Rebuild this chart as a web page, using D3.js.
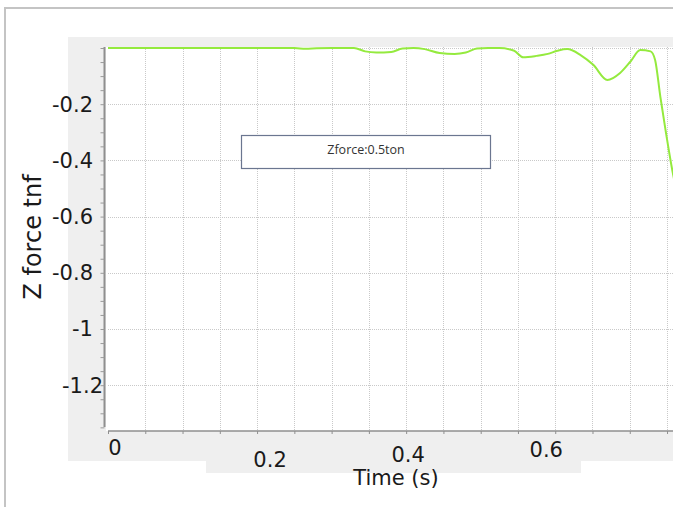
<!DOCTYPE html>
<html>
<head>
<meta charset="utf-8">
<script src="https://cdn.jsdelivr.net/npm/d3@7"></script>
<style>
  body { margin: 0; background: #fff; }
  svg { display: block; }
</style>
</head>
<body>
<div id="chart"></div>
<script>
// time (s) and Z force (tnf)
const timeValues = [0, 0.25, 0.265, 0.28, 0.3, 0.33, 0.345, 0.36, 0.38, 0.395, 0.41, 0.425, 0.445, 0.465, 0.48, 0.495,
  0.51, 0.525, 0.545, 0.557, 0.575, 0.59, 0.603, 0.616, 0.634, 0.651, 0.67, 0.687, 0.701, 0.714, 0.728, 0.734, 0.741, 0.748, 0.757, 0.762]
const zForceValues = [0, 0, -0.003, -0.001, 0, 0, -0.012, -0.016, -0.014, -0.002, 0, -0.004, -0.018, -0.021, -0.016, -0.002,
  0, 0, -0.01, -0.033, -0.028, -0.021, -0.01, -0.004, -0.025, -0.06, -0.114, -0.089, -0.048, -0.007, -0.012, -0.043, -0.173, -0.292, -0.434, -0.5]

const xTickValues = [0, 0.2, 0.4, 0.6]
const xTickLabels = ['0', '0.2', '0.4', '0.6']
const yTickValues = [-0.2, -0.4, -0.6, -0.8, -1, -1.2]
const yTickLabels = ['-0.2', '-0.4', '-0.6', '-0.8', '-1', '-1.2']
const noteText = 'Zforce:0.5ton'
const xTitle = 'Time (s)'
const yTitle = 'Z force tnf'

const W = 673, H = 507
const plot = {left: 106, right: 673, top: 47, bottom: 431}

const x = d3.scaleLinear().domain([0, 0.758]).range([108, 673])
const y = d3.scaleLinear().domain([0, -1.363]).range([48, 431])

const svg = d3.select('#chart').append('svg')
  .attr('width', W)
  .attr('height', H)
  .style('font-family', '"DejaVu Sans", sans-serif')

// outer frame of the screenshot
svg.append('path')
  .attr('d', `M5,${H} L5,8 L${W},8`)
  .attr('fill', 'none')
  .attr('stroke', '#c4c4c4')
  .attr('stroke-width', 2)

// grey panel behind the plot
svg.append('rect').attr('x', 68).attr('y', 37).attr('width', W - 68).attr('height', 424).attr('fill', '#efefef')
svg.append('rect').attr('x', 206).attr('y', 460).attr('width', 375).attr('height', 13).attr('fill', '#efefef')

// white plot area
svg.append('rect')
  .attr('x', plot.left).attr('y', plot.top)
  .attr('width', plot.right - plot.left).attr('height', plot.bottom - plot.top)
  .attr('fill', '#fff')

svg.append('clipPath').attr('id', 'clip')
  .append('rect')
  .attr('x', plot.left).attr('y', plot.top)
  .attr('width', plot.right - plot.left).attr('height', plot.bottom - plot.top)

// grid
const grid = svg.append('g').attr('stroke', '#c9c9c9').attr('stroke-width', 1).attr('stroke-dasharray', '1,1')
grid.selectAll('.vg')
  .data(d3.range(1, 16).map(i => i * 0.05))
  .enter().append('line')
  .attr('x1', d => Math.round(x(d)) + 0.5).attr('x2', d => Math.round(x(d)) + 0.5)
  .attr('y1', plot.top).attr('y2', plot.bottom)
grid.selectAll('.hg')
  .data([0].concat(yTickValues))
  .enter().append('line')
  .attr('x1', 108).attr('x2', plot.right)
  .attr('y1', d => Math.round(y(d)) + 0.5).attr('y2', d => Math.round(y(d)) + 0.5)

// y axis: line + minor ticks every 0.05
const yAxis = d3.axisLeft(y)
  .tickValues(d3.range(0, 28).map(i => -i * 0.05))
  .tickSize(4)
  .tickFormat('')
const gy = svg.append('g').attr('transform', 'translate(104.5,0)').call(yAxis)
gy.select('.domain').attr('stroke', '#8f8f8f').attr('stroke-width', 2).attr('d', `M0,${plot.top}V427`)
gy.selectAll('.tick line').attr('stroke', '#9a9a9a')

// x axis: line + ticks every 0.05
const xAxis = d3.axisBottom(x)
  .tickValues(d3.range(0, 16).map(i => i * 0.05))
  .tickSize(3)
  .tickFormat('')
const gx = svg.append('g').attr('transform', 'translate(0,431)').call(xAxis)
gx.select('.domain').attr('stroke', '#8f8f8f').attr('stroke-width', 1.5).attr('d', `M108,0H${W}`)
gx.selectAll('.tick line').attr('stroke', '#8f8f8f')

// tick labels (the source screenshot has them a bit out of place)
const xLabelShift = [[7, 448], [13, 460], [2, 455], [-9, 450]]
svg.append('g').selectAll('text')
  .data(xTickValues)
  .enter().append('text')
  .attr('x', (d, i) => x(d) + xLabelShift[i][0])
  .attr('y', (d, i) => xLabelShift[i][1])
  .attr('dy', '0.35em')
  .attr('text-anchor', 'middle')
  .attr('font-size', 21)
  .attr('fill', '#1a1a1a')
  .text((d, i) => xTickLabels[i])

const yLabelRight = [93, 93, 93, 93, 93, 103]
svg.append('g').selectAll('text')
  .data(yTickValues)
  .enter().append('text')
  .attr('x', (d, i) => yLabelRight[i])
  .attr('y', d => y(d))
  .attr('dy', '0.35em')
  .attr('text-anchor', 'end')
  .attr('font-size', 21)
  .attr('fill', '#1a1a1a')
  .text((d, i) => yTickLabels[i])

// axis titles
svg.append('text')
  .attr('x', 396).attr('y', 478)
  .attr('dy', '0.35em')
  .attr('text-anchor', 'middle')
  .attr('font-size', 21)
  .attr('fill', '#1a1a1a')
  .text(xTitle)

svg.append('text')
  .attr('transform', 'translate(33,237) rotate(-90)')
  .attr('dy', '0.35em')
  .attr('text-anchor', 'middle')
  .attr('font-size', 24)
  .attr('fill', '#1a1a1a')
  .text(yTitle)

// the force curve
const data = timeValues.map((t, i) => [t, zForceValues[i]])
const line = d3.line()
  .x(d => x(d[0]))
  .y(d => y(d[1]))
  .curve(d3.curveMonotoneX)

svg.append('path')
  .datum(data)
  .attr('clip-path', 'url(#clip)')
  .attr('d', line)
  .attr('fill', 'none')
  .attr('stroke', '#94ea3e')
  .attr('stroke-width', 2)

// note box
svg.append('rect')
  .attr('x', 241.5).attr('y', 135.5)
  .attr('width', 249).attr('height', 33)
  .attr('fill', '#fff')
  .attr('stroke', '#6b7690')
  .attr('stroke-width', 1.2)
svg.append('text')
  .attr('x', 366).attr('y', 150)
  .attr('dy', '0.35em')
  .attr('text-anchor', 'middle')
  .attr('font-family', '"Open Sans", sans-serif')
  .attr('font-size', 12.5)
  .attr('fill', '#333')
  .text(noteText)
</script>
</body>
</html>
